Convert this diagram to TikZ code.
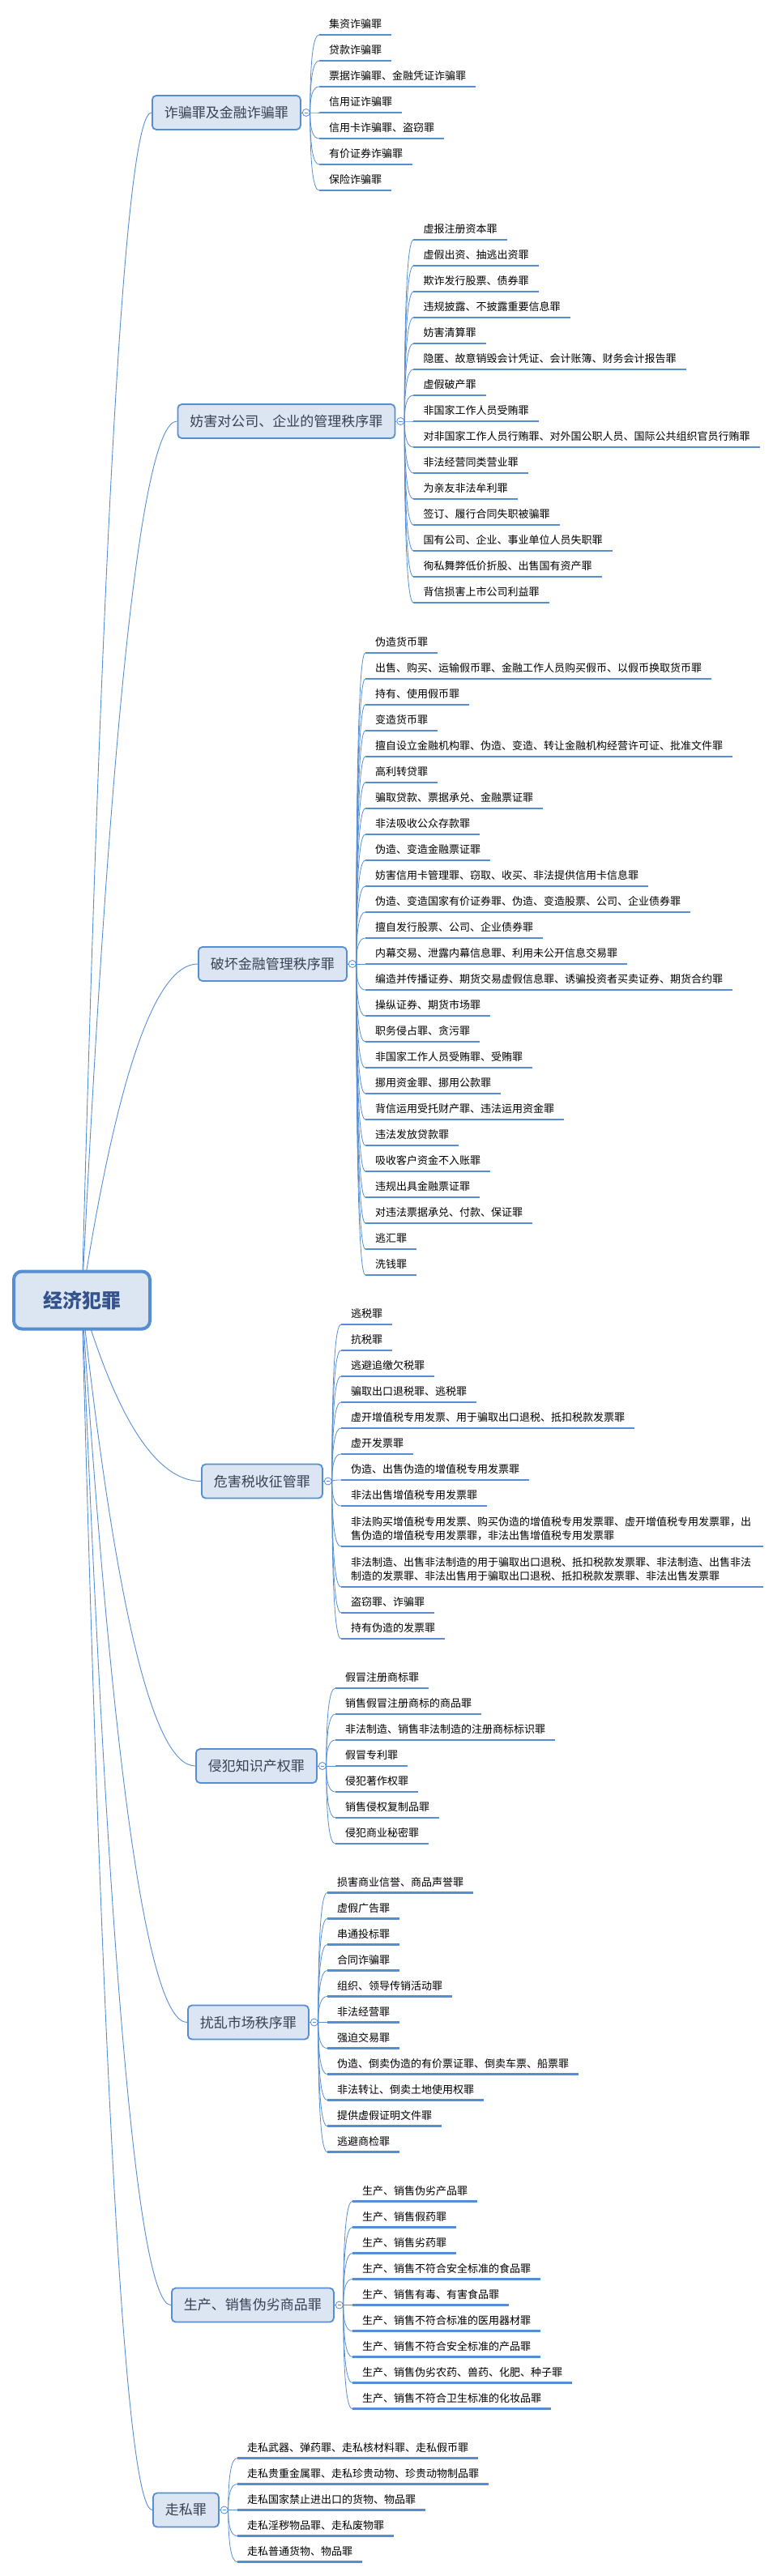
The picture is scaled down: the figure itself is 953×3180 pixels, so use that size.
\documentclass[tikz,border=0pt]{standalone}
\usepackage{fontspec}
\setmainfont{Noto Sans CJK SC}
\usepackage{tikz}
\usetikzlibrary{calc}
\definecolor{LineBlue}{RGB}{86, 141, 211}
\definecolor{BoxBlue}{RGB}{220, 230, 242}
\definecolor{CatText}{RGB}{55, 65, 85}
\definecolor{RootText}{RGB}{52, 82, 140}
\pgfdeclarelayer{bg}
\pgfsetlayers{bg,main}

% curve from a fold circle to the start of a leaf underline
\newcommand\twigto[2]{%
  \draw[twig] let \p1=(#1.east), \p2=(#2.south west) in
    (\p1) .. controls (\x1,{\y1+0.667*(\y2-\y1)}) and ({\x2-0.667*(\x2-\x1)},\y2) .. (\p2);}

\begin{document}
\begin{tikzpicture}[x=1pt, y=1pt,
  rootbox/.style={draw=LineBlue, line width=4pt, fill=BoxBlue, rounded corners=10pt,
                  minimum height=71pt, minimum width=168pt, text=RootText,
                  font=\fontsize{24}{28}\selectfont\bfseries},
  cat/.style={draw=LineBlue, line width=1.8pt, fill=BoxBlue, rounded corners=5pt,
              minimum height=42pt, inner xsep=15pt, anchor=west, text=CatText,
              font=\fontsize{17}{20}\selectfont},
  fold/.style={circle, draw=LineBlue, fill=white, line width=0.8pt, minimum size=9pt,
               inner sep=0pt, text=LineBlue},
  leaf/.style={anchor=south west, inner xsep=12pt, inner ysep=0pt, text depth=8pt,
               font=\fontsize{13}{17}\selectfont},
  leaftwo/.style={leaf, text width=497pt, align=left, text depth=25pt},
  uline/.style={draw=LineBlue, line width=2.8pt},
  twig/.style={draw=LineBlue, line width=0.8pt},
  trunk/.style={draw=LineBlue, line width=0.9pt}
]
  \useasboundingbox (0,0) rectangle (953,-3180);

  % ---- root ----
  \node[rootbox] (root) at (101,-1605) {经济犯罪};

  % ---- main categories ----
  \node[cat] (b1) at (187,-139)    {诈骗罪及金融诈骗罪};
  \node[cat] (b2) at (218.5,-520)  {妨害对公司、企业的管理秩序罪};
  \node[cat] (b3) at (244,-1190)   {破坏金融管理秩序罪};
  \node[cat] (b4) at (248,-1828.5) {危害税收征管罪};
  \node[cat] (b5) at (241,-2180)   {侵犯知识产权罪};
  \node[cat] (b6) at (231,-2496.5) {扰乱市场秩序罪};
  \node[cat] (b7) at (211,-2845.5) {生产、销售伪劣商品罪};
  \node[cat] (b8) at (188,-3098.5) {走私罪};

  \foreach \k in {1,...,8}{
    \node[fold] (c\k) at ($(b\k.east)+(6,0)$) {\rule{4.5pt}{0.6pt}};
    \draw[twig] (b\k) -- (c\k);
  }

  % root -> categories, under the root box
  \begin{pgfonlayer}{bg}
    \foreach \k in {1,...,8}
      \draw[trunk] let \p1=(root.center), \p2=(b\k.west) in
        (\p1) .. controls ({\x1+0.3*(\x2-\x1)},{\y1+0.667*(\y2-\y1)})
              and ({\x2-0.367*(\x2-\x1)},\y2) .. (\p2);
  \end{pgfonlayer}

  % ---- 诈骗罪及金融诈骗罪 ----
  \foreach \txt [count=\i from 0] in {集资诈骗罪, 贷款诈骗罪, 票据诈骗罪、金融凭证诈骗罪,
      信用证诈骗罪, 信用卡诈骗罪、盗窃罪, 有价证券诈骗罪, 保险诈骗罪}{
    \node[leaf] (b1-\i) at ($(b1.east)+(22,{(3-\i)*32})$) {\txt};
    \twigto{c1}{b1-\i}
    \draw[uline] (b1-\i.south west) -- (b1-\i.south east);
  }

  % ---- 妨害对公司、企业的管理秩序罪 ----
  \foreach \txt [count=\i from 0] in {虚报注册资本罪, 虚假出资、抽逃出资罪, 欺诈发行股票、债券罪,
      违规披露、不披露重要信息罪, 妨害清算罪, 隐匿、故意销毁会计凭证、会计账簿、财务会计报告罪,
      虚假破产罪, 非国家工作人员受贿罪, 对非国家工作人员行贿罪、对外国公职人员、国际公共组织官员行贿罪,
      非法经营同类营业罪, 为亲友非法牟利罪, 签订、履行合同失职被骗罪,
      国有公司、企业、事业单位人员失职罪, 徇私舞弊低价折股、出售国有资产罪, 背信损害上市公司利益罪}{
    \node[leaf] (b2-\i) at ($(b2.east)+(22,{(7-\i)*32})$) {\txt};
    \twigto{c2}{b2-\i}
    \draw[uline] (b2-\i.south west) -- (b2-\i.south east);
  }

  % ---- 破坏金融管理秩序罪 ----
  \foreach \txt [count=\i from 0] in {伪造货币罪,
      出售、购买、运输假币罪、金融工作人员购买假币、以假币换取货币罪, 持有、使用假币罪, 变造货币罪,
      擅自设立金融机构罪、伪造、变造、转让金融机构经营许可证、批准文件罪, 高利转贷罪,
      骗取贷款、票据承兑、金融票证罪, 非法吸收公众存款罪, 伪造、变造金融票证罪,
      妨害信用卡管理罪、窃取、收买、非法提供信用卡信息罪,
      伪造、变造国家有价证券罪、伪造、变造股票、公司、企业债券罪, 擅自发行股票、公司、企业债券罪,
      内幕交易、泄露内幕信息罪、利用未公开信息交易罪,
      编造并传播证券、期货交易虚假信息罪、诱骗投资者买卖证券、期货合约罪, 操纵证券、期货市场罪,
      职务侵占罪、贪污罪, 非国家工作人员受贿罪、受贿罪, 挪用资金罪、挪用公款罪,
      背信运用受托财产罪、违法运用资金罪, 违法发放贷款罪, 吸收客户资金不入账罪, 违规出具金融票证罪,
      对违法票据承兑、付款、保证罪, 逃汇罪, 洗钱罪}{
    \node[leaf] (b3-\i) at ($(b3.east)+(22,{(12-\i)*32})$) {\txt};
    \twigto{c3}{b3-\i}
    \draw[uline] (b3-\i.south west) -- (b3-\i.south east);
  }

  % ---- 危害税收征管罪 (two leaves run over two lines) ----
  \foreach \dy/\txt [count=\i from 0] in {193.5/逃税罪, 161.5/抗税罪, 129.5/逃避追缴欠税罪,
      97.5/骗取出口退税罪、逃税罪, 65.5/虚开增值税专用发票、用于骗取出口退税、抵扣税款发票罪,
      33.5/虚开发票罪, 1.5/伪造、出售伪造的增值税专用发票罪, -30.5/非法出售增值税专用发票罪,
      -162.5/盗窃罪、诈骗罪, -194.5/持有伪造的发票罪}{
    \node[leaf] (b4-\i) at ($(b4.east)+(22,\dy)$) {\txt};
    \twigto{c4}{b4-\i}
    \draw[uline] (b4-\i.south west) -- (b4-\i.south east);
  }
  \node[leaftwo] (b4-a) at ($(b4.east)+(22,-80.5)$)
    {非法购买增值税专用发票、购买伪造的增值税专用发票罪、虚开增值税专用发票罪，出\\
     售伪造的增值税专用发票罪，非法出售增值税专用发票罪};
  \node[leaftwo] (b4-b) at ($(b4.east)+(22,-130.5)$)
    {非法制造、出售非法制造的用于骗取出口退税、抵扣税款发票罪、非法制造、出售非法\\
     制造的发票罪、非法出售用于骗取出口退税、抵扣税款发票罪、非法出售发票罪};
  \foreach \k in {a,b}{
    \twigto{c4}{b4-\k}
    \draw[uline] (b4-\k.south west) -- (b4-\k.south east);
  }

  % ---- 侵犯知识产权罪 ----
  \foreach \txt [count=\i from 0] in {假冒注册商标罪, 销售假冒注册商标的商品罪,
      非法制造、销售非法制造的注册商标标识罪, 假冒专利罪, 侵犯著作权罪, 销售侵权复制品罪, 侵犯商业秘密罪}{
    \node[leaf] (b5-\i) at ($(b5.east)+(22,{(3-\i)*32})$) {\txt};
    \twigto{c5}{b5-\i}
    \draw[uline] (b5-\i.south west) -- (b5-\i.south east);
  }

  % ---- 扰乱市场秩序罪 ----
  \foreach \txt [count=\i from 0] in {损害商业信誉、商品声誉罪, 虚假广告罪, 串通投标罪, 合同诈骗罪,
      组织、领导传销活动罪, 非法经营罪, 强迫交易罪, 伪造、倒卖伪造的有价票证罪、倒卖车票、船票罪,
      非法转让、倒卖土地使用权罪, 提供虚假证明文件罪, 逃避商检罪}{
    \node[leaf] (b6-\i) at ($(b6.east)+(22,{(5-\i)*32})$) {\txt};
    \twigto{c6}{b6-\i}
    \draw[uline] (b6-\i.south west) -- (b6-\i.south east);
  }

  % ---- 生产、销售伪劣商品罪 ----
  \foreach \txt [count=\i from 0] in {生产、销售伪劣产品罪, 生产、销售假药罪, 生产、销售劣药罪,
      生产、销售不符合安全标准的食品罪, 生产、销售有毒、有害食品罪, 生产、销售不符合标准的医用器材罪,
      生产、销售不符合安全标准的产品罪, 生产、销售伪劣农药、兽药、化肥、种子罪,
      生产、销售不符合卫生标准的化妆品罪}{
    \node[leaf] (b7-\i) at ($(b7.east)+(22,{(4-\i)*32})$) {\txt};
    \twigto{c7}{b7-\i}
    \draw[uline] (b7-\i.south west) -- (b7-\i.south east);
  }

  % ---- 走私罪 ----
  \foreach \txt [count=\i from 0] in {走私武器、弹药罪、走私核材料罪、走私假币罪,
      走私贵重金属罪、走私珍贵动物、珍贵动物制品罪, 走私国家禁止进出口的货物、物品罪,
      走私淫秽物品罪、走私废物罪, 走私普通货物、物品罪}{
    \node[leaf] (b8-\i) at ($(b8.east)+(22,{(2-\i)*32})$) {\txt};
    \twigto{c8}{b8-\i}
    \draw[uline] (b8-\i.south west) -- (b8-\i.south east);
  }
\end{tikzpicture}
\end{document}
